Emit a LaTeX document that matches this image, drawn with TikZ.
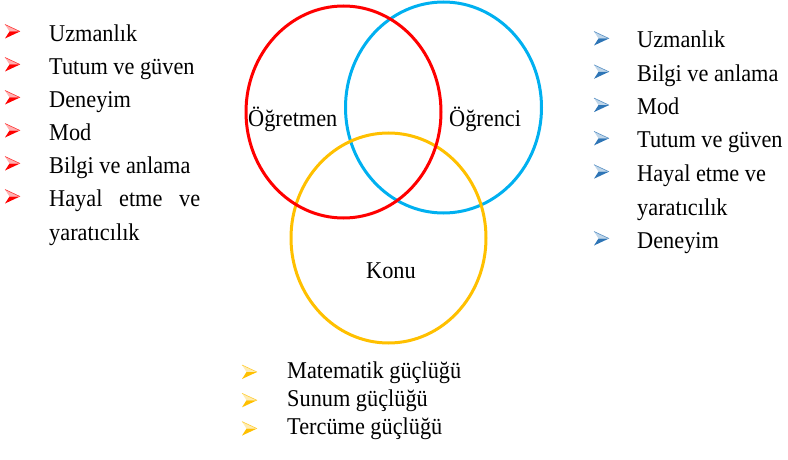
\documentclass[tikz,border=0pt]{standalone}
\usepackage{fontspec}
\setmainfont{Liberation Serif}
\newfontfamily\tnrfont{Liberation Serif}
\usetikzlibrary{positioning}
\definecolor{tred}{RGB}{255,0,0}
\definecolor{tblue}{RGB}{0,176,240}
\definecolor{tgold}{RGB}{255,192,0}
\definecolor{bblue}{RGB}{46,117,182}
\tikzset{
  ring/.style  = {line width=3pt},
  lbl/.style   = {font=\tnrfont\fontsize{22.3}{26}\selectfont, inner sep=0pt,
                  anchor=base west},
}
% text is a bit taller than wide in the original
\newcommand{\tall}[1]{\scalebox{1}[1.08]{#1}}
% arrow bullet: tip x, centre y, colour
\newcommand{\arrowbul}[3]{%
  \fill[#3!30] (#1,#2) -- ++(-15,-7) -- ++(4.5,7) -- cycle;
  \draw[#3!80, line width=0.6pt] (#1,#2) -- ++(-15,-7);
  \fill[#3] (#1,#2) -- ++(-15,7) -- ++(4.5,-7) -- cycle;
}

\begin{document}
\begin{tikzpicture}[x=1pt,y=-1pt]
  \useasboundingbox (0,0) rectangle (788,460);
  % three rings
  \draw[ring, tblue] (443.5,107.5) ellipse [x radius=98pt, y radius=105.5pt];
  \draw[ring, tgold] (388.5,238) ellipse [x radius=97.5pt, y radius=105pt];
  \draw[ring, tred]  (343.5,112) ellipse [x radius=97.5pt, y radius=106pt];
  \node[lbl] (ogt) at (248,127) {\tall{Öğretmen}};
  \node[lbl] (ogr) at (449,127) {\tall{Öğrenci}};
  \node[lbl] (kon) at (366,278) {\tall{Konu}};
  % teacher list
  \foreach \t [count=\i from 0] in {Uzmanlık, Tutum ve güven, Deneyim, Mod,
      Bilgi ve anlama, \makebox[151pt][s]{Hayal etme ve}} {
    \arrowbul{20}{31.5+33*\i}{tred}
    \node[lbl] (t\i) at (49,41.5+33*\i) {\tall{\t}};
  }
  \node[lbl] (t6) at (49,240) {\tall{yaratıcılık}};
  % student list
  \foreach \t [count=\i from 0] in {Uzmanlık, Bilgi ve anlama, Mod,
      Tutum ve güven, Hayal etme ve} {
    \arrowbul{609}{38.5+33.3*\i}{bblue}
    \node[lbl] (s\i) at (637,48+33.3*\i) {\tall{\t}};
  }
  \node[lbl] (s5) at (637,215) {\tall{yaratıcılık}};
  \arrowbul{609}{238.5}{bblue}
  \node[lbl] (s6) at (637,248) {\tall{Deneyim}};
  % subject list
  \foreach \t [count=\i from 0] in {Matematik güçlüğü, Sunum güçlüğü,
      Tercüme güçlüğü} {
    \arrowbul{257}{372+28.3*\i}{tgold}
    \node[lbl] (k\i) at (287,378+28.3*\i) {\tall{\t}};
  }
\end{tikzpicture}
\end{document}
